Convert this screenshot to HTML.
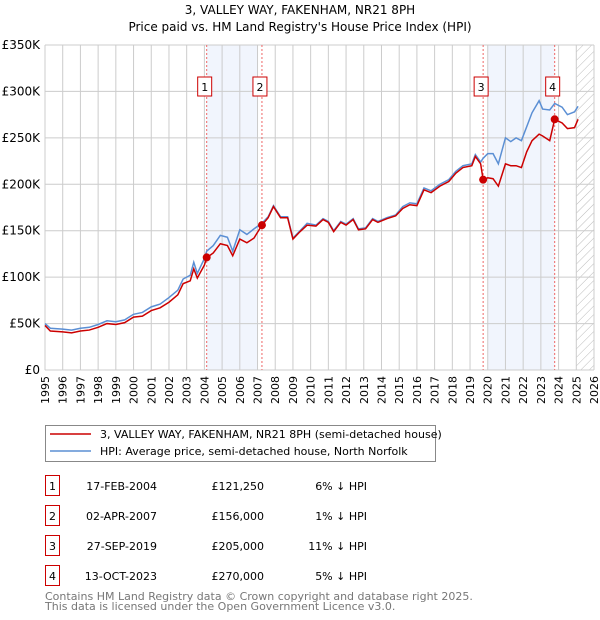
<!DOCTYPE html>
<html><head><meta charset="utf-8"><style>
body{margin:0;background:#fff;font-family:"DejaVu Sans","Liberation Sans",sans-serif;}
#wrap{position:relative;width:600px;height:620px;overflow:hidden;}
svg text{font-family:"DejaVu Sans","Liberation Sans",sans-serif;}
</style></head><body>
<div id="wrap">
<svg id="chart" width="600" height="620">
<text x="300" y="14" text-anchor="middle" font-size="12">3, VALLEY WAY, FAKENHAM, NR21 8PH</text>
<text x="300" y="31" text-anchor="middle" font-size="12">Price paid vs. HM Land Registry's House Price Index (HPI)</text>
<g id="plot"></g>
<g>
<rect x="45.5" y="425.5" width="390" height="36" fill="#fff" stroke="#888"/>
<line x1="50" y1="434" x2="91" y2="434" stroke="#cc0000" stroke-width="1.5"/>
<text x="100" y="438" font-size="11">3, VALLEY WAY, FAKENHAM, NR21 8PH (semi-detached house)</text>
<line x1="50" y1="451" x2="91" y2="451" stroke="#5b8fd4" stroke-width="1.5"/>
<text x="100" y="455" font-size="11">HPI: Average price, semi-detached house, North Norfolk</text>
</g>
<g id="table"></g>
<text x="45" y="600" font-size="11" fill="#777">Contains HM Land Registry data © Crown copyright and database right 2025.</text>
<text x="45" y="610" font-size="11" fill="#777">This data is licensed under the Open Government Licence v3.0.</text>
</svg>
</div>
<script>
const years=[1995,1995.3,1996,1996.5,1997,1997.5,1998,1998.5,1999,1999.5,2000,2000.5,2001,2001.5,2002,2002.5,2002.8,2003.2,2003.4,2003.6,2004,2004.13,2004.5,2004.9,2005.3,2005.6,2006,2006.4,2006.8,2007.25,2007.6,2007.9,2008.3,2008.7,2009,2009.4,2009.8,2010.3,2010.7,2011,2011.3,2011.7,2012,2012.4,2012.7,2013.1,2013.5,2013.8,2014.3,2014.8,2015.2,2015.6,2016,2016.4,2016.8,2017.3,2017.8,2018.2,2018.6,2019.1,2019.3,2019.6,2019.74,2020,2020.3,2020.6,2021,2021.3,2021.6,2021.9,2022.2,2022.5,2022.9,2023.1,2023.5,2023.78,2024.2,2024.5,2024.9,2025.1];
const hpi=[50,45,44,43,45,46,49,53,52,54,60,62,68,71,78,86,98,102,116,104,120,128,134,145,143,128,151,146,152,158,165,177,165,165,142,150,158,156,163,160,150,160,157,163,152,153,163,160,164,167,176,180,179,196,193,200,205,214,220,222,232,224,228,233,233,222,250,246,250,247,262,277,290,281,280,287,283,275,278,284];
const price=[48,42,41,40,42,43,46,50,49,51,57,58,64,67,73,81,93,96,109,99,113,121,126,136,134,123,141,137,142,156,164,176,164,164,141,149,156,155,162,159,149,159,156,162,151,152,162,159,163,166,174,178,177,194,191,198,203,212,218,220,230,222,205,207,206,198,222,220,220,218,235,247,254,252,247,270,266,260,261,270];
const saleLabels=["1","2","3","4"];
const saleYears=[2004.13,2007.25,2019.74,2023.78];
const salePrices=[121.25,156,205,270];
const saleDates=["17-FEB-2004","02-APR-2007","27-SEP-2019","13-OCT-2023"];
const salePriceText=["£121,250","£156,000","£205,000","£270,000"];
const saleDiff=["6% ↓ HPI","1% ↓ HPI","11% ↓ HPI","5% ↓ HPI"];
const yTicks=[0,50,100,150,200,250,300,350];
const yTickLabels=["£0","£50K","£100K","£150K","£200K","£250K","£300K","£350K"];
const shadeStart=[2004.13,2020.0];
const shadeEnd=[2007.0,2023.78];

const NS="http://www.w3.org/2000/svg";
const L=45,R=594,T=45,B=370;
const X=y=>L+(y-1995)*(R-L)/31;
const Y=v=>B-v*(B-T)/350;
const plot=document.getElementById('plot');
function mk(tag,attrs,parent){const e=document.createElementNS(NS,tag);for(const k in attrs)e.setAttribute(k,attrs[k]);(parent||plot).appendChild(e);return e;}

for(let i=0;i<shadeStart.length;i++){
  const r=mk('rect',{x:X(shadeStart[i]),y:T,width:X(shadeEnd[i])-X(shadeStart[i]),height:B-T,fill:'#eef3fc',opacity:0.8});
  
  
}
// hatch
const defs=mk('defs',{});
const pat=mk('pattern',{id:'hatch',width:6,height:6,patternUnits:'userSpaceOnUse',patternTransform:'rotate(45)'},defs);
mk('line',{x1:0,y1:0,x2:0,y2:6,stroke:'#bbb','stroke-width':1},pat);
const hx=X(2025.0);
const hr=mk('rect',{x:hx,y:T,width:R-hx,height:B-T,fill:'url(#hatch)'});



for(let y=1995;y<=2026;y++){
  const g=mk('line',{x1:X(y),y1:T,x2:X(y),y2:B,stroke:'#ccc','stroke-width':1});
  
  
  const t=mk('text',{x:0,y:0,'font-size':11,'text-anchor':'end',transform:`translate(${X(y)+4},${B+6}) rotate(-90)`});
  t.textContent=String(y);
  
  
}
yTicks.forEach((v,i)=>{
  const g=mk('line',{x1:L,y1:Y(v),x2:R,y2:Y(v),stroke:'#ccc','stroke-width':1});
  
  
  const t=mk('text',{x:40,y:Y(v)+4,'font-size':12,'text-anchor':'end'});
  t.textContent=yTickLabels[i];
  
  
});
mk('line',{x1:L,y1:T,x2:L,y2:B,stroke:'#ccc'});

saleYears.forEach((yr,i)=>{
  const l=mk('line',{x1:X(yr),y1:T,x2:X(yr),y2:B,stroke:'#e66','stroke-width':1,'stroke-dasharray':'2,2'});
  
  
  const bx=mk('rect',{x:X(yr)-9,y:77,width:14,height:19,fill:'#fff',stroke:'#c00','stroke-width':1});
  
  
  const t=mk('text',{x:X(yr)-2,y:91,'font-size':11,'text-anchor':'middle'});
  t.textContent=saleLabels[i];
  
  
});

const hp=mk('polyline',{points:years.map((y,i)=>X(y)+','+Y(hpi[i])).join(' '),fill:'none',stroke:'#5b8fd4','stroke-width':1.5});


const pp=mk('polyline',{points:years.map((y,i)=>X(y)+','+Y(price[i])).join(' '),fill:'none',stroke:'#cc0000','stroke-width':1.5});


saleYears.forEach((yr,i)=>{
  const c=mk('circle',{cx:X(yr),cy:Y(salePrices[i]),r:4,fill:'#cc0000'});
  
  
});

const tbl=document.getElementById('table');
saleDates.forEach((d,i)=>{
  const yb=475+i*30;
  const b=mk('rect',{x:45.5,y:yb+0.5,width:14,height:20,fill:'#fff',stroke:'#c00'},tbl);
  
  
  const vals=[[52.5,saleLabels[i],'middle'],[157,d,'end'],[264,salePriceText[i],'end'],[367,saleDiff[i],'end']];
  const names=['table-index','table-date','table-price','table-hpi-diff'];
  vals.forEach((v,j)=>{
    const t=mk('text',{x:v[0],y:yb+15,'font-size':11,'text-anchor':v[2]},tbl);
    t.textContent=v[1];
    
    
  });
});
</script>
</body></html>
